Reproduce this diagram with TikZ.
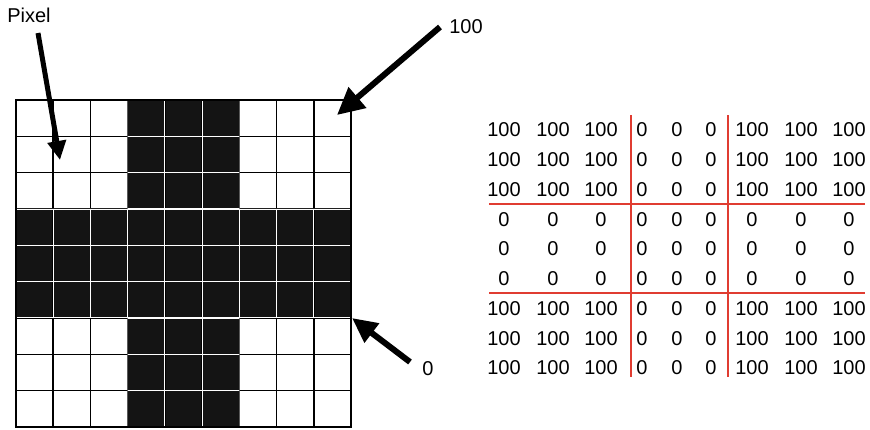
\documentclass[tikz,border=0pt]{standalone}
\usepackage{fontspec}
\setmainfont{Liberation Sans}
\usetikzlibrary{arrows.meta}
\definecolor{cellblack}{HTML}{141414}
\definecolor{splitred}{HTML}{E03C31}

\begin{document}
\begin{tikzpicture}[x=1pt,y=-1pt,
  lbl/.style={inner sep=0pt,font=\fontsize{20}{24}\selectfont},
  bigarrow/.style={line width=6pt,-{Triangle[length=27pt,width=26pt]}},
  splitline/.style={splitred,line width=1.8pt},
  cellgrid/.style={xstep=37.22pt,ystep=36.33pt}]
\useasboundingbox (0,0) rectangle (870,429);
% picture of 9x9 pixels
\begin{scope}[shift={(16,100)},x=37.22pt,y=-36.33pt]
\fill[cellblack] (3,0) rectangle (6,9);
\fill[cellblack] (0,3) rectangle (9,6);
\draw[line width=1.5pt,cellgrid] (0,0) grid (9,9);
\begin{scope}
\clip (3,0) rectangle (6,9) (0,3) rectangle (9,6);
\draw[white,line width=1.2pt,cellgrid] (0,0) grid (9,9);
\end{scope}
\draw[line width=1.5pt] (0,0) rectangle (9,9);
\end{scope}
% labels and arrows
\node[lbl] (pixlbl) at (29,15) {Pixel};
\node[lbl] (hundredlbl) at (466,27) {100};
\node[lbl] (zerolbl) at (428,369) {0};
\coordinate (pixtail) at (38,33);
\coordinate (pixtip) at (60,160);
\coordinate (hundredtail) at (440,27);
\coordinate (hundredtip) at (337,115);
\coordinate (zerotail) at (410,362);
\coordinate (zerotip) at (352,318);
\draw[line width=5pt,-{Triangle[length=19pt,width=18pt]}] (pixtail) -- (pixtip);
\draw[bigarrow] (hundredtail) -- (hundredtip);
\draw[bigarrow,-{Triangle[length=25pt,width=23pt]}] (zerotail) -- (zerotip);
% matrix of values
\foreach \x [count=\c from 0] in {504,553,601,642,677,711,752,801,849}
  \foreach \y [count=\r from 0] in {130,159.75,189.5,219.25,249,278.75,308.5,338.25,368} {
    \pgfmathtruncatemacro{\val}{(\c<3 || \c>5) && (\r<3 || \r>5) ? 100 : 0}
    \node[lbl] (m-\r-\c) at (\x,\y) {\val};
  }
\draw[splitline] (631,115) -- (631,377);
\draw[splitline] (728,115) -- (728,377);
\draw[splitline] (489,204) -- (865,204);
\draw[splitline] (489,293) -- (865,293);
\end{tikzpicture}
\end{document}
